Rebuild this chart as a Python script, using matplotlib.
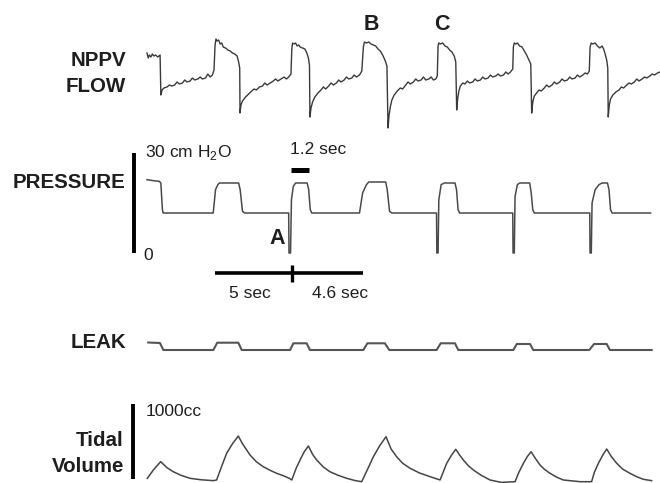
import matplotlib
matplotlib.use("Agg")
import matplotlib.pyplot as plt
from matplotlib import font_manager

# ---------------- data (time in s, flow in L/min, pressure in cm H2O, leak in L/min, volume in mL)
flow = [
    (0.00, 27), (0.08, 22), (0.15, 25), (0.25, 23), (0.35, 26), (0.45, 24), (0.55, 25), (0.70, 23), (0.85, 25), (0.90, -15),
    (0.98, -10), (1.1, -8), (1.3, -7), (1.45, -5), (1.6, -6), (1.8, -5), (1.95, -2), (2.1, -4), (2.3, -3), (2.45, 0),
    (2.6, -2), (2.8, -1), (2.95, 2), (3.1, 0), (3.3, 1), (3.45, 3), (3.6, 1), (3.8, 2), (3.95, 6), (4.1, 3), (4.25, 5),
    (4.35, 10),
    (4.42, 35), (4.48, 41), (4.55, 39), (4.65, 40), (4.75, 36), (4.85, 37), (4.95, 33), (5.1, 32), (5.25, 30), (5.4, 29),
    (5.55, 27), (5.7, 26), (5.85, 24), (5.95, 18), (6.02, 12), (6.04, -33),
    (6.1, -25), (6.2, -21), (6.4, -17), (6.6, -14), (6.8, -11), (6.95, -9), (7.1, -10), (7.3, -7), (7.5, -6), (7.65, -3),
    (7.8, -5), (8.0, -3), (8.2, -1), (8.35, 1), (8.5, -1), (8.7, 1), (8.9, 3), (9.05, 1), (9.2, 3), (9.35, 6),
    (9.40, 30), (9.45, 37), (9.55, 36), (9.65, 37), (9.75, 34), (9.85, 35), (9.95, 33), (10.1, 32), (10.25, 31), (10.38, 27),
    (10.48, 22), (10.55, 15), (10.58, -37),
    (10.65, -28), (10.75, -22), (10.9, -17), (11.1, -13), (11.3, -10), (11.45, -7), (11.6, -9), (11.8, -6), (11.95, -3),
    (12.1, -5), (12.3, -3), (12.45, 0), (12.6, -2), (12.8, 0), (12.95, 3), (13.1, 1), (13.3, 2), (13.45, 5), (13.6, 3),
    (13.8, 5), (13.95, 9),
    (14.05, 33), (14.12, 38), (14.25, 37), (14.4, 38), (14.55, 36), (14.7, 35), (14.85, 34), (15.0, 31), (15.15, 29),
    (15.3, 25), (15.45, 20), (15.58, 14), (15.65, -48),
    (15.72, -35), (15.8, -27), (15.9, -20), (16.05, -15), (16.25, -11), (16.45, -8), (16.6, -9), (16.8, -5), (16.95, -2),
    (17.1, -4), (17.3, -2), (17.45, 1), (17.6, -1), (17.8, 0), (17.95, 3), (18.1, 0), (18.3, 1), (18.45, 3), (18.6, 0),
    (18.75, 1), (18.85, 4),
    (18.90, 34), (18.95, 37), (19.05, 36), (19.2, 37), (19.35, 34), (19.5, 33), (19.65, 30), (19.8, 28), (19.95, 24),
    (20.05, 18), (20.11, -30),
    (20.18, -18), (20.25, -11), (20.35, -6), (20.5, -3), (20.65, -4), (20.8, -1), (20.95, -3), (21.15, -2), (21.3, 1),
    (21.45, -1), (21.65, 0), (21.8, 3), (21.95, 1), (22.15, 2), (22.3, 5), (22.45, 3), (22.65, 4), (22.8, 6), (22.95, 4),
    (23.15, 5), (23.3, 8), (23.45, 6), (23.6, 8), (23.75, 11),
    (23.79, 33), (23.85, 37), (23.95, 36), (24.05, 37), (24.2, 34), (24.35, 33), (24.5, 29), (24.65, 25), (24.8, 20),
    (24.92, 16), (24.98, -33),
    (25.05, -22), (25.15, -16), (25.3, -13), (25.45, -10), (25.6, -11), (25.8, -8), (25.95, -5), (26.1, -7), (26.3, -5),
    (26.45, -2), (26.6, -4), (26.8, -2), (26.95, 1), (27.1, -1), (27.3, 0), (27.45, 3), (27.6, 1), (27.8, 2), (27.95, 5),
    (28.1, 3), (28.3, 5), (28.45, 7), (28.6, 6), (28.72, 9),
    (28.77, 33), (28.85, 37), (28.95, 36), (29.1, 37), (29.25, 34), (29.4, 32), (29.55, 34), (29.65, 31), (29.75, 26),
    (29.85, 20), (29.92, 12), (29.95, -37),
    (30.02, -25), (30.1, -19), (30.25, -15), (30.45, -12), (30.65, -10), (30.8, -7), (30.95, -8), (31.15, -5), (31.3, -3),
    (31.45, -4), (31.65, -2), (31.8, 1), (31.95, -1), (32.15, 1), (32.3, 3), (32.45, 2), (32.65, 4), (32.8, 6), (32.95, 5),
    (33.15, 7), (33.3, 8),
]

pressure = [
    (0.0, 22), (0.4, 21.7), (0.8, 21.5), (0.9, 21), (1.0, 13), (1.05, 12),
    (4.3, 12), (4.45, 19), (4.6, 20.5), (4.7, 21), (5.95, 21), (6.05, 19), (6.2, 12.5), (6.35, 12),
    (9.2, 12), (9.22, 0), (9.32, 0), (9.38, 16), (9.5, 20), (9.65, 21), (10.4, 21), (10.5, 19), (10.6, 13), (10.7, 12),
    (13.8, 12), (14.0, 18), (14.25, 20.5), (14.4, 21.3), (15.5, 21.3), (15.6, 19), (15.75, 12.5), (15.9, 12),
    (18.8, 12), (18.82, 0), (18.9, 0), (18.95, 16), (19.1, 20.5), (19.3, 21), (20.0, 21), (20.1, 19), (20.2, 13), (20.3, 12),
    (23.75, 12), (23.77, 0), (23.85, 0), (23.9, 17), (24.05, 20.5), (24.2, 21), (24.85, 21), (24.95, 18), (25.05, 13), (25.15, 12),
    (28.75, 12), (28.77, 0), (28.85, 0), (28.9, 15), (29.1, 19), (29.35, 20.5), (29.55, 21), (29.9, 21), (30.0, 19), (30.1, 13), (30.2, 12),
    (32.7, 12),
]

leak = [
    (0.08, 57.5), (0.84, 57), (1.06, 50),
    (4.31, 50), (4.56, 57.3), (5.93, 57.3), (6.15, 50),
    (9.29, 50), (9.5, 56.7), (10.37, 56.7), (10.58, 50),
    (14.05, 50), (14.31, 56.7), (15.45, 56.7), (15.73, 50),
    (18.81, 50), (19.07, 56.7), (20.0, 56.7), (20.21, 50),
    (23.79, 50), (24.01, 56), (24.87, 56), (25.08, 50),
    (28.72, 50), (29.03, 56), (29.85, 56), (30.06, 50),
    (32.77, 50),
]

volume = [
    (0.02, 9), (0.45, 130), (0.89, 231), (1.3, 150), (1.71, 97), (2.2, 50), (2.79, 9), (3.5, -10), (4.31, -22),
    (4.52, -13), (4.85, 170), (5.17, 342), (5.55, 470), (5.93, 573), (6.2, 470), (6.69, 320), (7.1, 230), (7.55, 164),
    (8.0, 115), (8.42, 76), (8.9, 40), (9.24, 9),
    (9.40, -13), (9.7, 150), (9.94, 253), (10.2, 360), (10.48, 440), (10.75, 330), (11.02, 253), (11.45, 160), (11.88, 97),
    (12.4, 50), (12.97, 9), (13.5, -20), (13.94, -36),
    (14.3, 120), (14.70, 297), (15.1, 440), (15.52, 564), (15.85, 400), (16.21, 297), (16.6, 210), (17.08, 143),
    (17.7, 80), (18.38, 31), (19.03, -13),
    (19.25, 100), (19.46, 209), (19.75, 310), (20.05, 396), (20.3, 320), (20.54, 253), (20.85, 180), (21.19, 120),
    (21.7, 50), (22.27, -13), (23.0, -45), (23.90, -36),
    (24.15, 90), (24.44, 209), (24.7, 300), (24.94, 364), (25.2, 280), (25.52, 187), (25.8, 130), (26.17, 76),
    (26.6, 25), (27.03, -13), (28.12, -36), (28.87, -36),
    (29.05, 90), (29.31, 209), (29.6, 320), (29.85, 400), (30.15, 300), (30.50, 209), (30.9, 130), (31.36, 76),
    (31.8, 30), (32.23, -4), (32.77, -22),
]

pressure_scale = (0, 30)          # cm H2O scale bar
volume_scale = (0, 1000)          # mL scale bar
interval_1 = 5.0                  # s
interval_2 = 4.6                  # s
interval_start = 4.42             # s
short_bar_start, short_bar_len = 9.32, 1.2  # s

# ---------------- layout (pixel geometry of the 660x483 figure)
W, H = 660, 483
PX_PER_SEC = 15.4
X0 = 147
XLIM = (-X0 / PX_PER_SEC, (W - X0) / PX_PER_SEC)

avail = {f.name for f in font_manager.fontManager.ttflist}
if 'Liberation Sans Narrow' in avail:
    LBL_FAMILY, LBL_SIZE = 'Liberation Sans Narrow', 17.5
else:
    LBL_FAMILY, LBL_SIZE = 'Liberation Sans', 14.8
REG = 'Liberation Sans'
REG_SIZE = 12.5

fig = plt.figure(figsize=(W / 100, H / 100), dpi=100)
fig.patch.set_facecolor('white')


def trace_axes(y_zero_px, px_per_unit):
    ax = fig.add_axes([0, 0, 1, 1])
    ax.set_xlim(*XLIM)
    ax.set_ylim((y_zero_px - H) / px_per_unit, y_zero_px / px_per_unit)
    ax.axis('off')
    ax.patch.set_alpha(0)
    return ax


def unzip(pairs):
    return [p[0] for p in pairs], [p[1] for p in pairs]


TRACE = '#3a3a3a'

ax_f = trace_axes(80, 1.0)
t, v = unzip(flow)
ax_f.plot(t, v, color=TRACE, lw=1.0, solid_joinstyle='round')

ax_p = trace_axes(253, 1 / 0.3)
t, v = unzip(pressure)
ax_p.plot(t, v, color='#4a4a4a', lw=1.1)
# pressure scale bar
tb = (134.3 - X0) / PX_PER_SEC
ax_p.plot([tb, tb], list(pressure_scale), color='black', lw=2.8, solid_capstyle='butt')
# 1.2 sec bar
ax_p.plot([short_bar_start, short_bar_start + short_bar_len], [25, 25], color='black', lw=3.6, solid_capstyle='butt')
# 5 sec / 4.6 sec bar
ax_p.plot([interval_start, interval_start + interval_1 + interval_2], [-6.1, -6.1], color='black', lw=2.6,
          solid_capstyle='butt')
tm = interval_start + interval_1
ax_p.plot([tm, tm], [-3.6, -8.6], color='black', lw=2.4, solid_capstyle='butt')

ax_l = trace_axes(400, 1.0)
t, v = unzip(leak)
ax_l.plot(t, v, color='#555555', lw=1.5)

ax_v = trace_axes(479, 75 / 1000)
t, v = unzip(volume)
ax_v.plot(t, v, color='#454545', lw=1.1)
tvb = (133.3 - X0) / PX_PER_SEC
ax_v.plot([tvb, tvb], list(volume_scale), color='black', lw=2.8, solid_capstyle='butt')

# ---------------- text overlay in pixel coordinates
ax_t = fig.add_axes([0, 0, 1, 1])
ax_t.set_xlim(0, W)
ax_t.set_ylim(H, 0)
ax_t.axis('off')
ax_t.patch.set_alpha(0)

TXT = '#1e1e1e'
lbl = dict(family=LBL_FAMILY, weight='bold', size=LBL_SIZE, color=TXT, ha='right', va='center')
ax_t.text(126, 60, 'NPPV', **lbl)
ax_t.text(126, 86, 'FLOW', **lbl)
ax_t.text(125, 182, 'PRESSURE', **lbl)
ax_t.text(126, 342, 'LEAK', **lbl)
ax_t.text(124, 440, 'Tidal', **lbl)
ax_t.text(124, 466, 'Volume', **lbl)

letter = dict(family=REG, weight='bold', size=15.5, color=TXT, ha='center', va='center')
ax_t.text(277, 238, 'A', **letter)
ax_t.text(371, 25, 'B', **letter)
ax_t.text(442, 25, 'C', **letter)

reg = dict(family=REG, size=REG_SIZE, color=TXT, va='center')
ax_t.text(145, 152, r'30 cm H$_\mathregular{2}$O', ha='left', **reg)
ax_t.text(143, 256, '0', ha='left', **reg)
ax_t.text(290, 150, '1.2 sec', ha='left', **reg)
ax_t.text(250, 293, '5 sec', ha='center', **reg)
ax_t.text(340, 293, '4.6 sec', ha='center', **reg)
ax_t.text(146, 412, '1000cc', ha='left', **reg)

fig.savefig('out.png', dpi=100, facecolor='white')
